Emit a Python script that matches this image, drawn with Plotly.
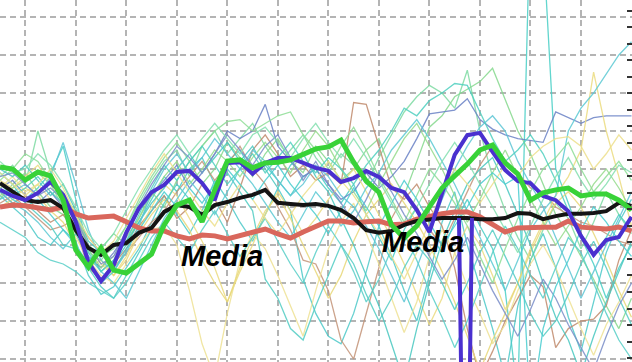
import plotly.graph_objects as go

# x positions: 51 samples (index)
x_idx = list(range(51))

# Thick summary lines (grid units)
black_mean = [4.63,4.39,4.18,4.13,4.18,3.97,3.39,2.92,2.74,3.00,3.05,3.32,3.45,
              3.87,4.05,4.00,3.79,4.05,4.13,4.24,4.32,4.45,4.11,4.08,4.05,4.08,
              4.03,3.92,3.71,3.39,3.32,3.37,3.53,3.63,3.68,3.71,3.71,3.71,3.68,
              3.68,3.71,3.84,3.82,3.68,3.76,3.82,3.82,3.84,3.89,4.11,4.03]
red_mean = [4.00,4.05,4.03,3.97,3.92,4.00,3.82,3.71,3.74,3.76,3.61,3.45,3.37,
            3.37,3.24,3.16,3.26,3.24,3.16,3.24,3.32,3.42,3.29,3.18,3.34,3.50,
            3.63,3.63,3.58,3.61,3.63,3.53,3.55,3.68,3.76,3.82,3.87,3.87,3.74,
            3.55,3.34,3.45,3.47,3.47,3.47,3.63,3.47,3.45,3.42,3.47,3.37]
blue_line = [4.45,4.29,4.18,4.37,4.66,4.32,3.61,2.55,2.05,2.47,3.32,3.97,4.39,
             4.58,4.92,4.95,4.63,4.18,5.16,5.18,4.87,5.16,5.29,5.29,5.16,5.03,
             4.95,4.66,4.76,4.95,4.79,4.50,4.39,3.92,3.34,4.32,5.37,5.89,5.95,
             5.45,4.97,4.68,4.63,4.29,4.18,3.89,3.24,2.74,3.13,3.21,3.74]
green_line = [5.05,5.00,4.71,4.92,4.82,4.18,2.87,2.42,2.92,2.34,2.26,2.53,2.76,
              3.53,4.05,4.18,3.61,4.45,5.21,5.24,5.03,5.16,5.18,5.24,5.39,5.53,
              5.58,5.76,5.18,4.68,4.39,3.53,3.18,3.50,4.00,4.50,4.82,5.13,5.50,
              5.63,5.16,4.87,4.18,4.37,4.45,4.50,4.29,4.34,4.34,4.18,3.92]
spike_x = [36.34, 36.86, 37.37]
spike_y = [3.71, -8.6, 3.71]

# Thin individual series (grid units)
thin_series = {
    "s01": [4.6,4.4,4.2,4.5,4.9,5.6,4.2,2.9,2.3,2.6,3.1,3.6,4.2,
            4.8,4.4,5.0,5.3,4.6,5.2,5.5,4.9,5.1,4.7,4.3,4.8,5.0,
            4.5,4.1,4.6,3.8,3.2,2.6,3.4,4.0,3.3,2.8,3.6,4.2,3.5,
            2.9,1.8,-1.0,12.0,11.0,5.0,4.1,3.2,2.5,1.6,2.4,3.0],
    "s02": [4.3,4.0,3.7,3.2,3.0,3.4,3.1,2.2,1.7,1.9,2.4,2.9,3.6,
            4.3,3.8,3.3,3.9,4.7,4.2,3.6,3.1,3.8,4.5,3.9,2.1,1.2,
            0.6,0.4,1.2,2.3,3.5,2.7,1.8,1.0,2.2,3.6,4.4,3.0,1.9,
            0.8,-0.5,1.4,2.6,3.3,2.4,1.1,0.2,1.5,2.8,3.6,4.2],
    "s03": [4.8,5.1,4.6,6.0,4.9,4.3,3.6,2.8,2.6,3.0,3.5,4.1,4.7,
            5.2,5.5,4.8,5.6,6.0,5.4,5.8,6.2,5.6,5.1,5.5,5.9,5.3,
            4.9,5.4,5.1,4.6,5.3,5.9,6.5,6.9,7.2,7.0,6.6,7.6,6.0,
            4.8,3.9,3.2,2.6,3.4,4.1,3.7,2.9,3.6,4.4,3.8,3.3],
    "s04": [4.2,4.6,4.9,4.4,4.0,3.8,3.3,2.6,2.9,3.3,3.0,3.7,4.4,
            4.0,4.7,5.2,4.6,5.0,5.7,5.3,4.8,5.4,5.8,5.2,4.9,5.6,
            5.2,4.7,5.0,5.5,5.8,4.9,4.3,5.2,6.1,6.4,6.9,7.1,7.3,
            7.65,6.8,6.0,5.4,4.6,3.8,3.3,2.7,2.1,1.4,0.8,1.6],
    "s05": [4.5,4.7,4.3,4.1,4.4,4.0,3.5,2.7,2.4,2.8,3.3,3.9,4.3,
            4.7,5.1,4.5,4.9,5.4,6.0,5.8,6.0,6.7,5.6,5.2,4.8,5.0,
            4.6,4.2,4.4,4.9,4.5,4.8,5.2,5.8,6.45,6.5,6.55,6.85,6.3,
            6.05,5.9,5.8,5.75,5.7,6.5,6.35,6.2,6.35,6.4,6.4,6.4],
    "s06": [4.4,4.1,4.3,3.9,3.6,3.8,3.4,2.4,2.1,2.5,2.9,3.5,3.9,
            4.3,3.7,4.0,4.6,4.2,3.6,4.5,5.5,5.9,5.4,4.8,5.1,4.7,
            4.9,4.6,6.75,6.7,5.6,4.5,4.2,4.6,4.0,3.5,2.4,0.8,-0.5,
            0.2,1.0,1.6,2.2,1.9,0.3,0.8,1.0,1.05,1.4,2.6,3.4],
    "s07": [4.1,4.3,4.0,3.7,3.4,3.5,3.7,3.2,2.8,2.4,2.8,3.2,3.6,
            3.9,4.4,4.8,5.2,4.7,5.1,5.6,5.0,4.6,4.0,3.4,2.6,2.5,
            1.8,0.5,0.0,1.2,2.4,3.7,4.3,4.0,3.4,3.0,3.7,4.4,5.1,
            5.6,5.2,4.9,4.5,4.4,4.0,3.8,3.6,3.5,3.3,3.1,3.0],
    "s08": [4.7,4.5,4.8,5.1,4.6,4.2,3.9,3.0,2.5,2.2,2.7,3.4,4.0,
            4.6,4.3,3.7,3.1,2.4,1.5,2.3,3.0,3.8,4.4,3.9,3.3,3.7,
            4.2,4.6,5.0,4.4,3.8,3.2,2.5,1.7,0.9,1.6,2.8,3.5,3.0,
            2.2,1.3,2.0,2.9,3.6,4.3,4.8,5.5,7.55,6.0,4.8,3.5],
    "s09": [4.5,4.8,4.4,4.6,4.2,3.9,3.2,2.6,2.2,2.0,2.5,3.0,3.4,
            3.5,3.0,1.8,0.4,-0.5,1.2,2.6,3.3,2.9,2.2,1.4,0.6,1.8,
            2.9,3.6,4.1,3.3,2.5,1.6,0.7,1.5,2.7,3.4,2.8,1.9,1.2,
            0.4,0.9,1.8,2.5,3.0,2.4,1.6,0.8,0.1,0.9,1.5,2.2],
    "s10": [4.0,4.2,4.5,4.3,3.9,3.6,3.0,2.4,2.6,2.2,2.6,3.3,3.8,
            4.2,3.9,3.4,2.6,2.0,1.5,2.4,3.2,3.9,4.3,3.7,3.0,2.3,
            1.6,2.2,3.1,3.8,4.2,4.6,4.1,3.6,3.0,2.3,1.5,0.6,-0.3,
            0.5,1.2,2.0,2.8,3.5,4.1,4.4,4.0,3.3,2.6,1.8,1.1],
    "s11": [4.9,4.6,4.1,3.8,3.5,3.0,2.9,2.4,1.9,1.6,2.2,2.8,3.4,
            4.1,4.6,4.2,3.8,4.4,4.9,4.4,3.9,2.1,1.6,0.8,0.5,1.4,
            2.2,3.0,2.5,1.7,1.0,1.6,2.4,3.0,2.6,2.0,1.3,2.0,2.8,
            3.4,2.7,2.0,1.2,0.6,1.0,1.7,2.5,3.1,2.4,1.6,0.9],
    "s12": [4.4,4.1,3.9,3.6,3.2,2.9,3.3,2.7,2.3,2.0,1.6,2.3,3.0,
            3.7,4.2,4.7,4.3,3.8,4.4,5.0,4.6,4.1,3.6,3.2,3.8,4.4,
            4.0,3.5,3.9,4.5,4.9,5.5,5.9,6.3,5.8,5.2,4.6,3.9,3.2,
            2.5,1.8,2.6,3.4,3.9,4.3,6.0,6.6,7.0,7.5,8.0,8.35],
    "s13": [4.7,5.0,5.4,5.2,4.7,4.4,3.8,3.0,2.7,2.9,3.5,4.2,4.8,
            5.3,5.7,5.2,5.6,6.0,6.25,6.3,6.0,6.2,6.4,6.5,5.9,5.5,
            5.0,5.6,6.1,5.5,4.8,4.2,3.6,4.3,5.0,4.6,4.1,3.5,2.7,
            2.0,2.9,3.7,4.4,5.0,5.3,5.7,5.0,4.4,4.8,5.2,4.7],
    "s14": [5.0,4.8,5.1,4.7,4.3,4.6,3.9,3.1,2.8,2.5,3.0,3.6,4.1,
            4.5,5.0,5.4,4.9,5.3,5.7,5.2,5.6,5.0,4.5,5.1,5.4,4.8,
            4.4,3.7,3.0,2.2,1.4,0.4,-0.6,0.8,2.0,3.1,3.9,4.6,5.0,
            5.3,4.6,3.8,3.0,2.0,1.1,0.5,-0.4,0.6,1.5,2.3,3.1],
    "s15": [4.3,4.5,4.7,4.9,4.6,4.0,3.7,2.9,2.4,2.7,3.2,3.7,4.3,
            4.8,5.2,4.6,5.0,5.5,5.2,4.8,5.3,5.7,5.3,4.9,5.5,6.0,
            5.6,5.0,4.4,3.9,4.6,5.2,5.8,6.2,5.6,5.0,4.3,3.6,4.2,
            4.9,5.5,4.8,4.2,3.6,3.0,3.5,4.0,4.6,5.0,4.5,3.9],
    "s16": [3.6,3.4,3.2,2.8,2.6,2.5,2.3,2.0,1.8,1.6,2.0,2.6,3.2,
            3.6,3.2,2.8,3.4,3.9,3.3,2.7,3.2,3.7,3.1,2.5,2.0,2.8,
            3.5,3.0,2.3,1.5,2.1,2.9,3.3,2.6,1.8,1.1,0.3,1.0,1.9,
            2.8,3.5,2.9,2.2,1.6,2.4,3.2,2.8,2.0,1.2,0.5,0.0],
    "s17": [4.2,4.4,4.6,4.3,4.8,5.7,4.6,3.4,2.6,2.3,2.8,3.5,4.4,
            5.0,5.4,4.9,5.3,5.8,5.4,5.0,5.5,5.2,4.7,4.3,4.6,5.1,
            4.8,4.3,4.0,3.5,2.9,2.2,1.5,2.4,3.3,4.2,5.0,5.6,6.1,
            6.4,6.0,5.2,4.6,4.0,3.2,2.4,1.6,2.3,3.0,3.7,4.4],
    "s18": [4.6,4.3,4.5,4.8,4.4,4.1,3.6,2.8,2.3,2.6,3.1,3.8,4.5,
            5.1,4.7,5.2,5.6,5.1,4.6,5.0,5.4,4.9,5.3,5.7,5.2,4.9,
            5.3,5.0,4.6,5.1,5.5,6.0,6.6,6.4,6.8,7.0,7.25,7.2,6.5,
            5.8,5.2,5.5,5.9,5.4,4.7,3.9,3.3,2.7,3.2,3.8,3.4],
    "s19": [4.9,4.6,4.3,4.6,5.0,4.5,3.8,3.2,2.8,3.1,3.7,4.3,4.9,
            5.4,4.9,4.4,3.9,3.5,4.1,4.6,4.2,3.7,3.3,3.8,4.3,4.7,
            5.2,4.7,4.3,3.8,3.3,2.7,2.1,2.8,3.6,4.4,5.0,4.6,4.1,
            4.6,5.1,4.8,5.3,5.6,5.8,5.85,5.6,5.0,5.4,5.9,5.5],
    "s20": [4.8,4.9,4.6,4.3,4.5,4.2,3.7,3.0,2.5,2.7,3.4,4.0,4.6,
            5.1,5.6,5.3,4.9,5.4,5.9,5.5,5.1,5.6,5.9,5.3,4.7,5.2,
            4.6,4.1,3.6,4.2,4.9,4.4,3.8,3.3,2.7,2.1,2.6,3.2,2.5,
            1.8,1.2,0.6,1.3,2.1,1.6,0.9,0.3,-0.3,0.6,1.4,2.0],
    "s21": [4.5,4.2,4.0,4.2,3.8,3.4,3.0,2.5,2.0,2.3,2.9,3.4,3.9,
            4.4,4.0,4.5,4.1,4.6,5.0,4.6,4.2,4.7,5.1,4.6,4.2,3.8,
            3.3,3.9,4.5,4.0,3.5,4.1,4.7,4.2,3.6,3.0,3.5,4.0,4.6,
            4.9,4.6,4.8,-1.5,0.8,1.9,2.6,3.4,4.0,3.6,3.1,2.7],
    "s22": [5.2,4.9,5.0,5.4,5.1,4.6,4.0,3.3,2.9,3.3,3.9,4.5,5.0,
            5.5,5.9,5.4,5.8,6.2,5.8,5.4,5.9,6.1,5.7,5.3,5.8,6.2,
            5.7,5.3,5.8,5.3,4.7,4.1,3.5,4.0,4.6,5.2,5.7,5.2,4.6,
            4.0,3.4,2.8,3.5,4.2,4.8,5.3,4.7,4.2,4.6,5.1,4.9],
}
thin_colors = {
    "s01": "#47cfc6", "s02": "#4cc9c9", "s03": "#7edba3", "s04": "#86d98e",
    "s05": "#6a82c6", "s06": "#c08a6c", "s07": "#c49478", "s08": "#ecdc80",
    "s09": "#efe294", "s10": "#e8d878", "s11": "#52cdc4", "s12": "#5ccad4",
    "s13": "#8ede96", "s14": "#48c8c0", "s15": "#96dc8c", "s16": "#58cfc8",
    "s17": "#5ec6d6", "s18": "#4fd0c0", "s19": "#eee08c", "s20": "#7a8ec8",
    "s21": "#48cdd0", "s22": "#84e0b0",
}

label_text = ["Media", "Media"]
label_x = [17.54, 33.5]
label_y = [2.72, 3.07]

fig = go.Figure()
for name, vals in thin_series.items():
    fig.add_trace(go.Scatter(x=x_idx, y=vals, mode="lines",
                             line=dict(color=thin_colors[name], width=1.3),
                             opacity=0.85, showlegend=False, hoverinfo="skip"))

fig.add_trace(go.Scatter(x=x_idx, y=red_mean, mode="lines",
                         line=dict(color="#d9675c", width=5), showlegend=False))
fig.add_trace(go.Scatter(x=x_idx, y=black_mean, mode="lines",
                         line=dict(color="#141414", width=4), showlegend=False))
fig.add_trace(go.Scatter(x=x_idx, y=blue_line, mode="lines",
                         line=dict(color="#4a30cf", width=4), showlegend=False))
fig.add_trace(go.Scatter(x=spike_x, y=spike_y, mode="lines",
                         line=dict(color="#4a30cf", width=4), showlegend=False))
fig.add_trace(go.Scatter(x=x_idx, y=green_line, mode="lines",
                         line=dict(color="#38d238", width=5), showlegend=False))
# invisible trace to carry the right-hand tick axis
fig.add_trace(go.Scatter(x=[0], y=[1], yaxis="y2", mode="markers",
                         marker=dict(opacity=0), showlegend=False, hoverinfo="skip"))

for t, xx, yy in zip(label_text, label_x, label_y):
    fig.add_annotation(x=xx, y=yy, text=t, showarrow=False,
                       xanchor="center", yanchor="middle",
                       font=dict(family="Liberation Sans, Arial", size=29,
                                 color="#000000", weight="bold", style="italic"))

fig.update_layout(
    width=632, height=362,
    margin=dict(l=0, r=0, t=0, b=0),
    paper_bgcolor="white", plot_bgcolor="white",
    showlegend=False,
    xaxis=dict(range=[0, 50.04], tick0=2, dtick=4, showgrid=True,
               gridcolor="#b4b4b4", gridwidth=1.5, griddash="6px,4px",
               showticklabels=False, zeroline=False, showline=False, ticks=""),
    yaxis=dict(range=[-0.079, 9.447], tick0=0, dtick=1, showgrid=True,
               gridcolor="#b4b4b4", gridwidth=1.5, griddash="6px,4px",
               showticklabels=False, zeroline=False, showline=False, ticks=""),
    yaxis2=dict(range=[0, 21.873], tick0=0.23, dtick=1, overlaying="y",
                side="right", ticks="inside", ticklen=5, tickwidth=1.5,
                tickcolor="#333333", showticklabels=False, showgrid=False,
                zeroline=False, showline=False),
)

fig.write_html("out.html")
